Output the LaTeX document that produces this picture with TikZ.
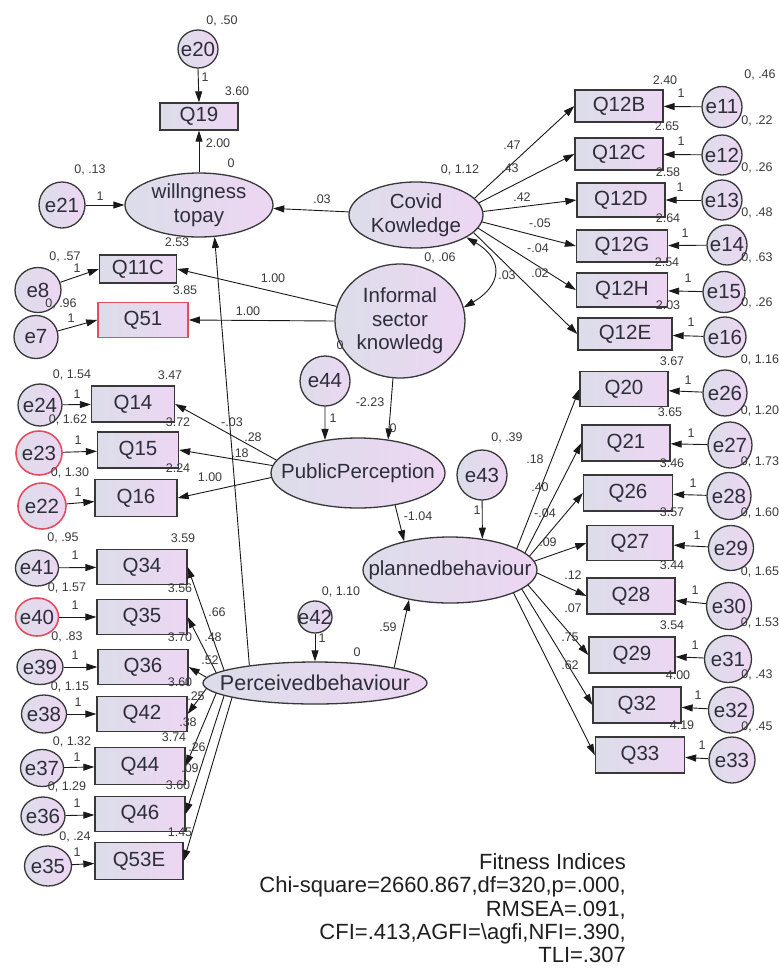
\documentclass[tikz,border=0pt]{standalone}
\usepackage{fontspec}
\setmainfont{Liberation Sans}
\usetikzlibrary{arrows.meta,shapes.geometric,calc}

\definecolor{ink}{HTML}{2E2E3A}
\definecolor{linegrey}{HTML}{383838}
\definecolor{shadeL}{RGB}{220,221,233}
\definecolor{shadeR}{RGB}{237,214,243}
\definecolor{warn}{RGB}{226,78,96}
\definecolor{numc}{HTML}{3A3A3A}

% zero-width text so the outline keeps its set size
\newcommand{\zb}[1]{\makebox[0pt]{#1}}

\tikzset{
  nodebase/.style={draw=linegrey, line width=1.3pt, left color=shadeL, right color=shadeR,
    text=ink, inner sep=0pt, font=\fontsize{20.5}{23.5}\selectfont},
  sz/.style 2 args={minimum width=#1pt, minimum height=#2pt},
  obsbox/.style={nodebase, rectangle},
  errnode/.style={nodebase, ellipse},
  latent/.style={nodebase, ellipse, align=center},
  flagged/.style={draw=warn, line width=1.6pt},
  numlab/.style={font=\fontsize{12.5}{14}\selectfont, text=numc, inner sep=0pt},
  fitline/.style={font=\fontsize{22}{24}\selectfont, text=black!88, inner sep=0pt, anchor=base east},
  regr/.style={draw=black!90, line width=0.9pt, -{Triangle[length=11pt,width=7pt]}},
  covar/.style={draw=black!90, line width=0.9pt,
    {Triangle[length=11pt,width=7pt]}-{Triangle[length=11pt,width=7pt]}},
}

\begin{document}
\begin{tikzpicture}[x=1pt,y=-1pt]
\useasboundingbox (0,0) rectangle (779,975);
\fill[white] (0,0) rectangle (779,975);

% ---------- latent variables ----------
\node[latent, sz={148}{64}] (will) at (199,205) {willngness\\topay};
\node[latent, sz={134}{66}] (covid) at (416,215) {Covid\\Kowledge};
\node[latent, sz={130}{114}] (inf) at (400,321) {Informal\\sector\\knowledg};
\node[latent, sz={174}{70}] (pp) at (358,473) {\zb{PublicPerception}};
\node[latent, sz={174}{66}] (pb) at (450,570) {\zb{plannedbehaviour}};
\node[latent, sz={224}{42}] (pcb) at (315,683) {\zb{\fontsize{21.5}{23.5}\selectfont Perceivedbehaviour}};

% ---------- observed variables ----------
\node[obsbox, sz={78}{27}] (q19) at (199,116.5) {Q19};
\node[obsbox, sz={77}{28}] (q11c) at (138,269) {Q11C};
\node[obsbox, flagged, sz={90}{35}] (q51) at (143,320) {Q51};
\node[obsbox, sz={83}{36}] (q14) at (133,404) {Q14};
\node[obsbox, sz={81}{36}] (q15) at (138,450) {Q15};
\node[obsbox, sz={82}{37}] (q16) at (136,498) {Q16};

\node[obsbox, sz={90}{35}] (q34) at (142,567) {Q34};
\node[obsbox, sz={90}{35}] (q35) at (142,617) {Q35};
\node[obsbox, sz={90}{35}] (q36) at (143,667) {Q36};
\node[obsbox, sz={90}{35}] (q42) at (142,714) {Q42};
\node[obsbox, sz={90}{37}] (q44) at (140,766) {Q44};
\node[obsbox, sz={90}{35}] (q46) at (140,814) {Q46};
\node[obsbox, sz={88}{37}] (q53e) at (139,861) {Q53E};

\node[obsbox, sz={88}{32}] (q12b) at (619,106) {Q12B};
\node[obsbox, sz={88}{32}] (q12c) at (619,154) {Q12C};
\node[obsbox, sz={88}{34}] (q12d) at (621,200) {Q12D};
\node[obsbox, sz={91}{32}] (q12g) at (622,246) {Q12G};
\node[obsbox, sz={91}{34}] (q12h) at (622,290) {Q12H};
\node[obsbox, sz={94}{32}] (q12e) at (625,334) {Q12E};

\node[obsbox, sz={88}{35}] (q20) at (624,389) {Q20};
\node[obsbox, sz={88}{36}] (q21) at (626,443) {Q21};
\node[obsbox, sz={89}{36}] (q26) at (628,493) {Q26};
\node[obsbox, sz={86}{35}] (q27) at (630,543) {Q27};
\node[obsbox, sz={88}{36}] (q28) at (631,596) {Q28};
\node[obsbox, sz={86}{36}] (q29) at (632,655) {Q29};
\node[obsbox, sz={88}{36}] (q32) at (637,705) {Q32};
\node[obsbox, sz={89}{36}] (q33) at (640,755) {Q33};

% ---------- error terms ----------
\node[errnode, sz={40}{38}] (e20) at (198,49) {\zb{e20}};
\node[errnode, sz={46}{46}] (e21) at (62,205) {\zb{e21}};
\node[errnode, sz={46}{45}] (e8) at (38,290) {\zb{e8}};
\node[errnode, sz={44}{43}] (e7) at (36,337) {\zb{e7}};
\node[errnode, sz={44}{42}] (e24) at (40,405) {\zb{e24}};
\node[errnode, flagged, sz={46}{44}] (e23) at (39,453) {\zb{e23}};
\node[errnode, flagged, sz={48}{46}] (e22) at (42,506) {\zb{e22}};

\node[errnode, sz={43}{36}] (e41) at (37,568) {\zb{e41}};
\node[errnode, flagged, sz={43}{38}] (e40) at (37,617) {\zb{e40}};
\node[errnode, sz={46}{35}] (e39) at (40,667) {\zb{e39}};
\node[errnode, sz={45}{38}] (e38) at (44,714) {\zb{e38}};
\node[errnode, sz={43}{37}] (e37) at (42,768) {\zb{e37}};
\node[errnode, sz={44}{38}] (e36) at (43,816) {\zb{e36}};
\node[errnode, sz={47}{40}] (e35) at (48,866) {\zb{e35}};

\node[errnode, sz={50}{50}] (e44) at (325,381) {\zb{e44}};
\node[errnode, sz={50}{50}] (e43) at (482,475) {\zb{e43}};
\node[errnode, sz={34}{32}] (e42) at (315,617) {\zb{e42}};

\node[errnode, sz={40}{41}] (e11) at (722,107) {\zb{e11}};
\node[errnode, sz={40}{40}] (e12) at (722,155) {\zb{e12}};
\node[errnode, sz={40}{40}] (e13) at (722,200) {\zb{e13}};
\node[errnode, sz={40}{40}] (e14) at (727,245) {\zb{e14}};
\node[errnode, sz={42}{41}] (e15) at (724,292) {\zb{e15}};
\node[errnode, sz={42}{40}] (e16) at (725,337) {\zb{e16}};

\node[errnode, sz={44}{46}] (e26) at (725,393) {\zb{e26}};
\node[errnode, sz={44}{46}] (e27) at (730,445) {\zb{e27}};
\node[errnode, sz={44}{47}] (e28) at (729,496) {\zb{e28}};
\node[errnode, sz={45}{45}] (e29) at (731,548) {\zb{e29}};
\node[errnode, sz={45}{47}] (e30) at (729,606) {\zb{e30}};
\node[errnode, sz={47}{47}] (e31) at (728,659) {\zb{e31}};
\node[errnode, sz={45}{46}] (e32) at (731,710) {\zb{e32}};
\node[errnode, sz={46}{46}] (e33) at (732,760) {\zb{e33}};

% ---------- structural paths ----------
\draw[regr] (will.north) -- (q19.south);
\draw[regr] (e20.south) -- (q19.north);
\draw[regr] (e21) -- (will);
\draw[regr] (covid) -- (will);
\draw[regr] (inf.167) -- (q11c.east);
\draw[regr] (inf.west) -- (q51.east);
\draw[regr] (e8) -- (q11c.west);
\draw[regr] (e7) -- (q51.west);
\draw[covar] (covid.-24) to[out=-30,in=30,looseness=1.6] (inf.12);
\draw[regr] (inf.-97) -- (pp.48);
\draw[regr] (e44) -- (pp.135);
\draw[regr] (pp.171) -- (q14.east);
\draw[regr] (pp.175) -- (q15.east);
\draw[regr] (pp.183) -- (q16.east);
\draw[regr] (e24) -- (q14);
\draw[regr] (e23) -- (q15);
\draw[regr] (e22) -- (q16);
\draw[regr] (pp.-41) -- (pb.148);
\draw[regr] (e43) -- (pb.44);
\draw[regr] (e42.south) -- (pcb.north);
\draw[regr] (pcb.11) -- (pb.216);
\draw[regr] (pcb.165) -- (will.-64);

% measurement paths of Covid knowledge
\draw[regr] (covid.16) -- (q12b.west);
\draw[regr] (covid.11) -- (q12c.west);
\draw[regr] (covid.3) -- (q12d.west);
\draw[regr] (covid.-6) -- (q12g.west);
\draw[regr] (covid.-12) -- (q12h.west);
\draw[regr] (covid.-17) -- (q12e.west);
\foreach \e/\q in {e11/q12b,e12/q12c,e13/q12d,e14/q12g,e15/q12h,e16/q12e}
  \draw[regr] (\e) -- (\q);

% measurement paths of planned behaviour
\draw[regr] (pb.18) -- (q20.west);
\draw[regr] (pb.13) -- (q21.west);
\draw[regr] (pb.10) -- (q26.west);
\draw[regr] (pb.6) -- (q27.west);
\draw[regr] (pb.-2) -- (q28.west);
\draw[regr] (pb.-11) -- (q29.west);
\draw[regr] (pb.-15) -- (q32.west);
\draw[regr] (pb.-20) -- (q33.west);
\foreach \e/\q in {e26/q20,e27/q21,e28/q26,e29/q27,e30/q28,e31/q29,e32/q32,e33/q33}
  \draw[regr] (\e) -- (\q);

% measurement paths of perceived behaviour
\draw[regr] (pcb.172) -- (q34.east);
\draw[regr] (pcb.174) -- (q35.east);
\draw[regr] (pcb.177) -- (q36.east);
\draw[regr] (pcb.183) -- (q42.east);
\draw[regr] (pcb.186) -- (q44.east);
\draw[regr] (pcb.188) -- (q46.east);
\draw[regr] (pcb.190) -- (q53e.east);
\foreach \e/\q in {e41/q34,e40/q35,e39/q36,e38/q42,e37/q44,e36/q46,e35/q53e}
  \draw[regr] (\e) -- (\q);

% ---------- estimates ----------
\foreach \px/\py/\txt [count=\k] in {
  222/21/{0, .50}, 205/77/1, 237/91/3.60, 218/143/2.00, 231/163/0,
  90/170/{0, .13}, 100/196/1, 322/199/.03, 460/170/{0, 1.12},
  665/80/2.40, 760/75/{0, .46}, 681/93/1,
  667/126/2.65, 757/121/{0, .22}, 681/141/1,
  668/172/2.58, 757/168/{0, .26}, 680/187/1,
  668/218/2.64, 757/213/{0, .48}, 685/233/1,
  667/262/2.54, 757/258/{0, .63}, 688/278/1,
  668/305/2.03, 757/303/{0, .26}, 691/322/1,
  512/145/.47, 510/168/.43, 522/197/.42, 540/223/-.05, 538/248/-.04,
  540/273/.02, 507/275/.03, 440/258/{0, .06},
  273/278/1.00, 248/311/1.00, 340/345/0, 370/402/-2.23, 393/428/0,
  65/257/{0, .57}, 77/268/1, 177/242/2.53,
  185/290/3.85, 61/304/{0, .96}, 71/318/1,
  72/375/{0, 1.54}, 170/375/3.47, 77/394/1,
  68/420/{0, 1.62}, 178/422/3.72, 78/440/1,
  70/473/{0, 1.30}, 178/468/2.24, 78/492/1,
  232/422/-.03, 253/437/.28, 240/453/.18, 210/477/1.00,
  333/418/1, 507/438/{0, .39}, 477/510/1, 418/516/-1.04,
  672/361/3.67, 760/360/{0, 1.16}, 688/380/1,
  670/412/3.65, 760/411/{0, 1.20}, 691/433/1,
  672/463/3.46, 760/462/{0, 1.73}, 693/483/1,
  672/512/3.57, 760/513/{0, 1.60}, 697/535/1,
  672/565/3.44, 760/572/{0, 1.65}, 695/590/1,
  672/625/3.54, 760/623/{0, 1.53}, 695/645/1,
  678/675/4.00, 757/675/{0, .43}, 698/695/1,
  682/725/4.19, 757/727/{0, .45}, 702/745/1,
  535/459/.18, 540/487/.40, 545/513/-.04, 548/542/.09,
  573/575/.12, 573/608/.07, 570/637/.75, 570/665/.62,
  63/538/{0, .95}, 183/538/3.59, 75/555/1,
  67/588/{0, 1.57}, 180/588/3.56, 75/605/1,
  67/637/{0, .83}, 180/637/3.70, 75/655/1,
  70/687/{0, 1.15}, 180/682/3.60, 78/702/1,
  72/742/{0, 1.32}, 174/737/3.74, 77/757/1,
  67/787/{0, 1.29}, 178/785/3.60, 77/803/1,
  75/837/{0, .24}, 180/832/1.45, 77/852/1,
  217/612/.66, 213/637/.48, 210/660/.52, 196/696/.25,
  188/722/.38, 197/747/.26, 190/768/.09,
  341/592/{0, 1.10}, 322/638/1, 357/652/0, 388/627/.59}
  \node[numlab] (est\k) at (\px,\py) {\txt};

% ---------- fit summary ----------
\node[fitline] (fit1) at (626,869) {Fitness Indices};
\node[fitline] (fit2) at (626,892) {Chi-square=2660.867,df=320,p=.000,};
\node[fitline] (fit3) at (626,916) {RMSEA=.091,};
\node[fitline] (fit4) at (626,939) {CFI=.413,AGFI=\textbackslash agfi,NFI=.390,};
\node[fitline] (fit5) at (626,962) {TLI=.307};
\end{tikzpicture}
\end{document}
